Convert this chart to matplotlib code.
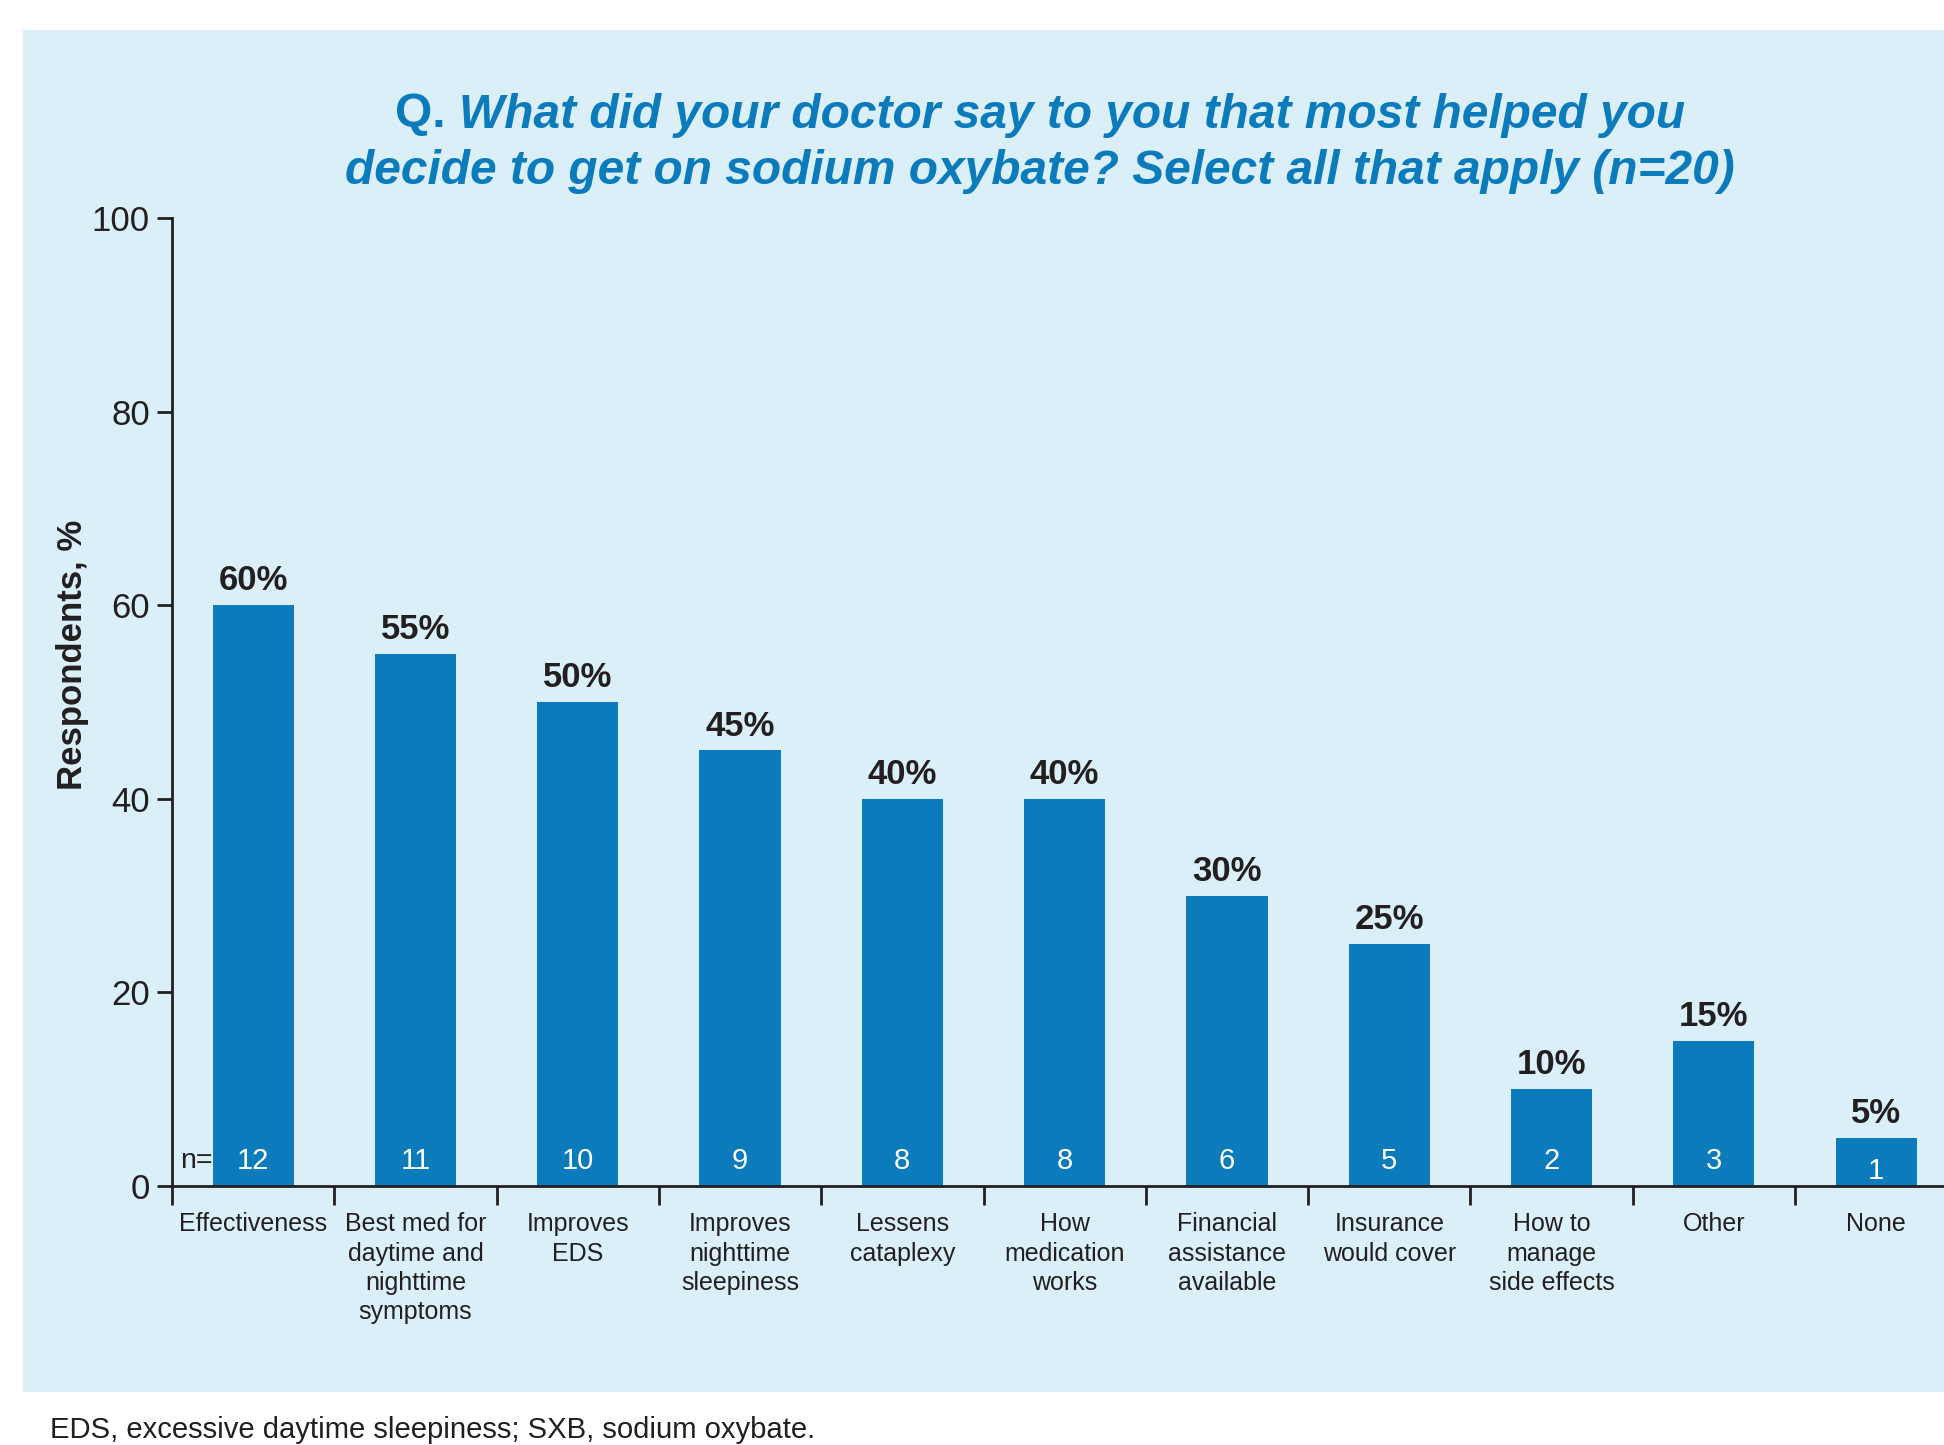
import matplotlib
matplotlib.use("Agg")
import matplotlib.pyplot as plt
from matplotlib.patches import Rectangle

plt.rcParams["font.family"] = ["Liberation Sans", "DejaVu Sans"]

# data
categories = [
    "Effectiveness",
    "Best med for\ndaytime and\nnighttime\nsymptoms",
    "Improves\nEDS",
    "Improves\nnighttime\nsleepiness",
    "Lessens\ncataplexy",
    "How\nmedication\nworks",
    "Financial\nassistance\navailable",
    "Insurance\nwould cover",
    "How to\nmanage\nside effects",
    "Other",
    "None",
]
percents = [60, 55, 50, 45, 40, 40, 30, 25, 10, 15, 5]
counts = [12, 11, 10, 9, 8, 8, 6, 5, 2, 3, 1]
yticks = [0, 20, 40, 60, 80, 100]

PANEL = "#daeff8"
BLUE = "#0b7bbc"
DARK = "#231f20"

W, H = 1944, 1445
fig = plt.figure(figsize=(W / 100, H / 100), dpi=100)
panel = Rectangle((23 / W, 1 - 1392 / H), 1 - 23 / W, (1392 - 30) / H,
                  transform=fig.transFigure, facecolor=PANEL,
                  edgecolor="none", zorder=-10)
fig.add_artist(panel)

ax = fig.add_axes([172 / W, 1 - 1186 / H, 1 - 172 / W, (1186 - 218) / H])
ax.set_facecolor("none")
ax.set_zorder(5)

x = list(range(len(categories)))
ax.bar(x, percents, width=0.5, color=BLUE, zorder=2)

for xi, p, n in zip(x, percents, counts):
    ax.text(xi, p + 0.8, f"{p}%", ha="center", va="bottom", fontsize=25,
            fontweight="bold", color=DARK)
    ax.text(xi, min(2.6, p - 3.4), str(n), ha="center", va="center",
            fontsize=21, color="white", zorder=3)
ax.text(-0.45, 2.6, "n=", ha="left", va="center", fontsize=20.5, color=DARK)

ax.set_xlim(-0.5, (W - 172) / 162.3 - 0.5)
ax.set_ylim(0, 100)
ax.set_yticks(yticks)
ax.set_xticks(x)
ax.set_xticklabels(categories, fontsize=18, color=DARK, linespacing=1.28)
ax.set_xticks([i + 0.5 for i in range(-1, len(categories) - 1)], minor=True)
ax.tick_params(axis="x", which="major", length=0, pad=19)
ax.tick_params(axis="x", which="minor", length=14, width=2, color=DARK, direction="out")
ax.tick_params(axis="y", length=11, width=2, color=DARK, pad=5, labelsize=25,
               labelcolor=DARK)

for s in ("top", "right"):
    ax.spines[s].set_visible(False)
for s in ("left", "bottom"):
    ax.spines[s].set_linewidth(2)
    ax.spines[s].set_color(DARK)

# y label sits a little above the middle of the axis in the reference
ax.text(-0.0564, 0.5486, "Respondents, %", transform=ax.transAxes, rotation=90,
        ha="center", va="center", fontsize=25, fontweight="bold", color=DARK)

# title: "Q." upright, the rest bold italic, two centered lines
renderer = fig.canvas.get_renderer()
cx = 1040 / W


def title_line(parts, yc):
    texts = []
    for s, style in parts:
        t = fig.text(0, yc, s, fontsize=34.5, fontweight="bold", style=style,
                     color=BLUE, ha="left", va="center")
        texts.append(t)
    widths = [t.get_window_extent(renderer).width / W for t in texts]
    left = cx - sum(widths) / 2
    for t, w in zip(texts, widths):
        t.set_x(left)
        left += w


title_line([("Q. ", "normal"),
            ("What did your doctor say to you that most helped you", "italic")],
           1 - 115 / H)
title_line([("decide to get on sodium oxybate? Select all that apply (n=20)", "italic")],
           1 - 172 / H)

fig.text(50 / W, 1 - 1430 / H, "EDS, excessive daytime sleepiness; SXB, sodium oxybate.",
         fontsize=21.1, color=DARK, ha="left", va="center")

fig.savefig("out.png", dpi=100)
